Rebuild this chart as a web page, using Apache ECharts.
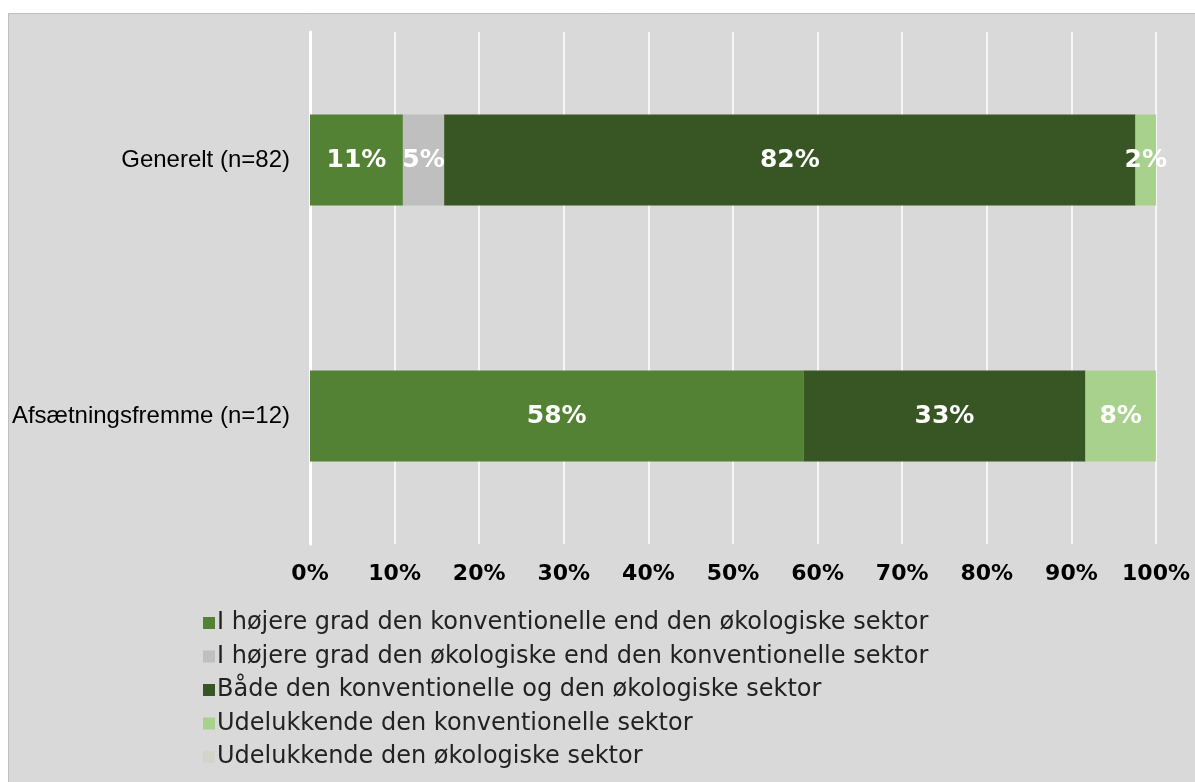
<!DOCTYPE html>
<html><head><meta charset="utf-8">
<script src="https://cdn.jsdelivr.net/npm/echarts@6/dist/echarts.min.js"></script>
<style>html,body{margin:0;padding:0;background:#fff}#c{width:1195px;height:782px}</style>
</head><body><div id="c"></div>
<script>
const categories = ['Generelt (n=82)', 'Afsætningsfremme (n=12)'];
const seriesNames = [
  'I højere grad den konventionelle end den økologiske sektor',
  'I højere grad den økologiske end den konventionelle sektor',
  'Både den konventionelle og den økologiske sektor',
  'Udelukkende den konventionelle sektor',
  'Udelukkende den økologiske sektor'
];
const sHoejereKonv = [10.98, 58.33];
const sHoejereOeko = [4.88, 0];
const sBegge = [81.71, 33.33];
const sKunKonv = [2.44, 8.33];
const sKunOeko = [0, 0];
const xTicks = ['0%','10%','20%','30%','40%','50%','60%','70%','80%','90%','100%'];
const colors = ['#548235', '#bfbfbf', '#375623', '#a9d18e', '#d3d5cb'];
const values = [sHoejereKonv, sHoejereOeko, sBegge, sKunKonv, sKunOeko];

const chart = echarts.init(document.getElementById('c'));
chart.setOption({
  animation: false,
  backgroundColor: '#ffffff',
  graphic: [{
    type: 'rect', z: -10, silent: true,
    shape: { x: 8.5, y: 13.5, width: 1195, height: 780 },
    style: { fill: '#d9d9d9', stroke: '#bfbfbf', lineWidth: 1 }
  }],
  grid: { left: 310, right: 39, top: 32, bottom: 238, containLabel: false },
  xAxis: {
    type: 'value', min: 0, max: 100, interval: 10,
    axisLine: { show: false }, axisTick: { show: false },
    splitLine: { lineStyle: { color: '#ffffff', width: 1.5 } },
    axisLabel: {
      margin: 19, color: '#000', fontFamily: 'DejaVu Sans', fontWeight: 'bold', fontSize: 22,
      formatter: v => xTicks[Math.round(v / 10)]
    }
  },
  yAxis: {
    type: 'category', data: categories, inverse: true,
    axisLine: { show: true, lineStyle: { color: '#ffffff', width: 3 } },
    axisTick: { show: false },
    axisLabel: { margin: 20, color: '#000', fontFamily: 'Liberation Sans', fontSize: 24 }
  },
  legend: {
    orient: 'vertical', left: 198, top: 606, itemGap: 9.5,
    itemWidth: 12, itemHeight: 12, icon: 'rect',
    textStyle: { color: '#222', fontFamily: 'DejaVu Sans', fontSize: 24, lineHeight: 24, padding: [0, 0, 0, -3] },
    data: seriesNames
  },
  series: values.map((arr, i) => ({
    name: seriesNames[i], type: 'bar', stack: 'total', barWidth: 91,
    data: arr,
    itemStyle: { color: colors[i] },
    label: {
      show: true, position: 'inside', color: '#fff', fontFamily: 'DejaVu Sans',
      fontWeight: 'bold', fontSize: 25,
      formatter: p => p.value > 0 ? Math.round(p.value) + '%' : ''
    }
  }))
});
</script></body></html>
